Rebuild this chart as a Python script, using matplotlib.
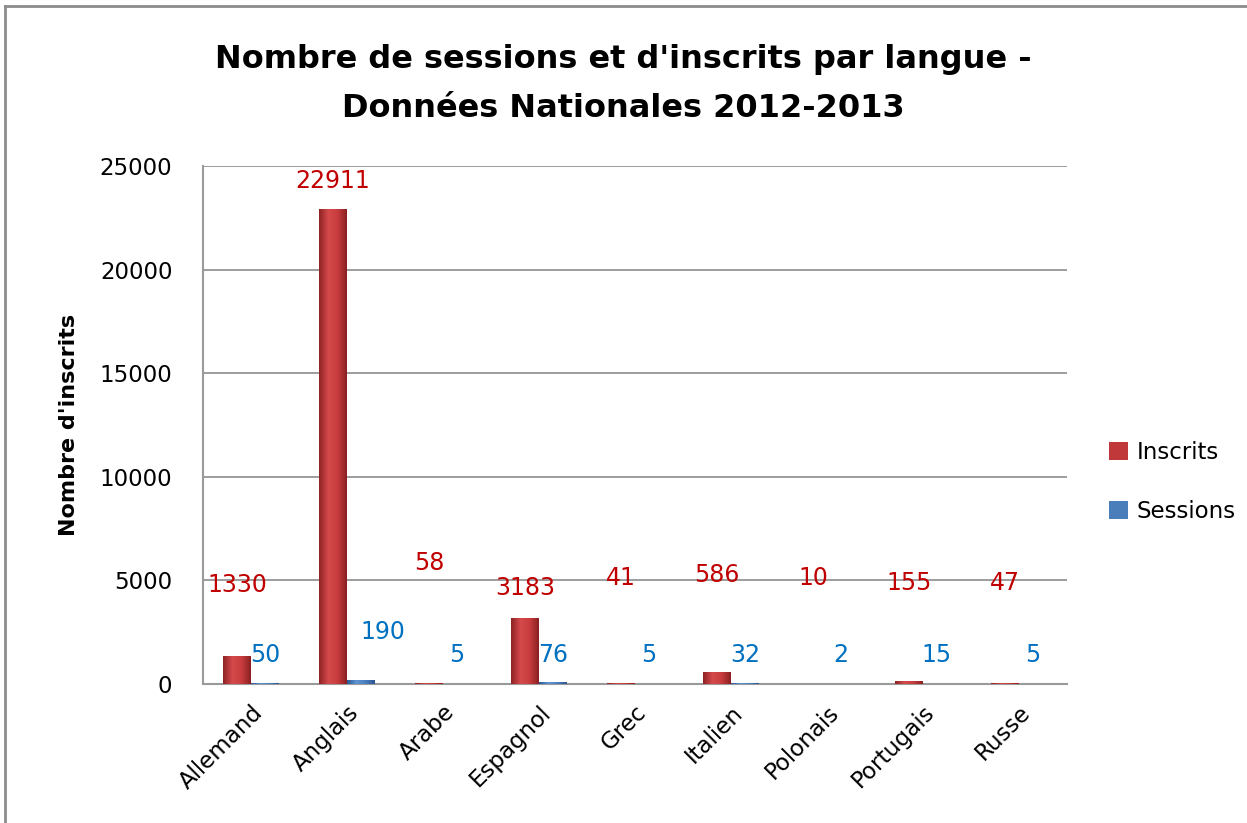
import numpy as np
import matplotlib
matplotlib.use("Agg")
import matplotlib.pyplot as plt
from matplotlib.colors import LinearSegmentedColormap
from matplotlib.lines import Line2D

LANGUES = ["Allemand", "Anglais", "Arabe", "Espagnol", "Grec",
           "Italien", "Polonais", "Portugais", "Russe"]
INSCRITS = [1330, 22911, 58, 3183, 41, 586, 10, 155, 47]
SESSIONS = [50, 190, 5, 76, 5, 32, 2, 15, 5]

TITLE = "Nombre de sessions et d'inscrits par langue -\nDonnées Nationales 2012-2013"
YLABEL = "Nombre d'inscrits"

# where Excel left the labels (manually placed, in data units)
INSCRITS_LABEL_Y = [4780, 24280, 5840, 4630, 5120, 5260, 5120, 4870, 4870]
SESSIONS_LABEL_Y = [1400, 2510, 1400, 1400, 1400, 1400, 1400, 1400, 1400]
SESSIONS_LABEL_DX = [0, 0.23, 0, 0, 0, 0, 0, 0, 0]

RED = "#c0383a"
BLUE = "#4a7ebb"
RED_TXT = "#c00000"
BLUE_TXT = "#0070c0"
FONT = "DejaVu Sans"

red_cmap = LinearSegmentedColormap.from_list("r", ["#8e2224", "#d44a4b", "#c93c3e", "#8a2022"])
blue_cmap = LinearSegmentedColormap.from_list("b", ["#2c5a94", "#5e93d2", "#4a80c0", "#2a5590"])

W = 0.29
x = np.arange(len(LANGUES))

fig = plt.figure(figsize=(12.47, 8.23), dpi=100)
ax = fig.add_axes([0.1628, 0.1689, 0.6929, 0.6294])

grad = np.linspace(0, 1, 64).reshape(1, -1)


def shaded_bars(xs, vals, color, cmap):
    bars = ax.bar(xs, vals, W, color=color, edgecolor="none", zorder=3)
    for b in bars:
        im = ax.imshow(grad, cmap=cmap, aspect="auto", zorder=3.5,
                       extent=[b.get_x(), b.get_x() + b.get_width(), 0, b.get_height()])
        im.set_clip_path(b)
    return bars


b1 = shaded_bars(x - W / 2, INSCRITS, RED, red_cmap)
b2 = shaded_bars(x + W / 2, SESSIONS, BLUE, blue_cmap)

for i in range(len(LANGUES)):
    ax.text(x[i] - W / 2, INSCRITS_LABEL_Y[i], str(INSCRITS[i]), color=RED_TXT,
            ha="center", va="center", fontsize=17, family=FONT, zorder=5)
    ax.text(x[i] + W / 2 + SESSIONS_LABEL_DX[i], SESSIONS_LABEL_Y[i], str(SESSIONS[i]),
            color=BLUE_TXT, ha="center", va="center", fontsize=17, family=FONT, zorder=5)

ax.set_xlim(-0.5, len(LANGUES) - 0.5)
ax.set_ylim(0, 25000)
ax.set_yticks(range(0, 25001, 5000))
ax.tick_params(axis="y", length=0, labelsize=16.5, pad=22)
ax.tick_params(axis="x", length=0, labelsize=16.5, pad=12)
ax.set_xticks(x)
ax.set_xticklabels(LANGUES, rotation=45, ha="right", rotation_mode="anchor", family=FONT)
for lab in ax.get_yticklabels():
    lab.set_family(FONT)
ax.grid(axis="y", color="#8c8c8c", lw=1.2, zorder=1)
ax.set_axisbelow(True)
for s in ["top", "right"]:
    ax.spines[s].set_visible(False)
for s in ["left", "bottom"]:
    ax.spines[s].set_color("#9a9a9a")
    ax.spines[s].set_linewidth(1.5)

ax.set_ylabel(YLABEL, fontsize=16, fontweight="bold", family=FONT, labelpad=15)
fig.suptitle(TITLE, y=0.946, fontsize=23, fontweight="bold", family=FONT, linespacing=1.75)

ax.legend([b1, b2], ["Inscrits", "Sessions"], loc="center left",
          bbox_to_anchor=(1.025, 0.39), frameon=False,
          handlelength=0.8, handleheight=0.8, labelspacing=1.55, handletextpad=0.4,
          prop={"family": FONT, "size": 16.5})

# chart-area frame (only top and left edges visible in the crop)
fig.add_artist(Line2D([0.004, 0.004], [0, 0.993], color="#8c8c8c", lw=2, transform=fig.transFigure))
fig.add_artist(Line2D([0.004, 1], [0.993, 0.993], color="#8c8c8c", lw=2, transform=fig.transFigure))

fig.savefig("out.png", dpi=100)
